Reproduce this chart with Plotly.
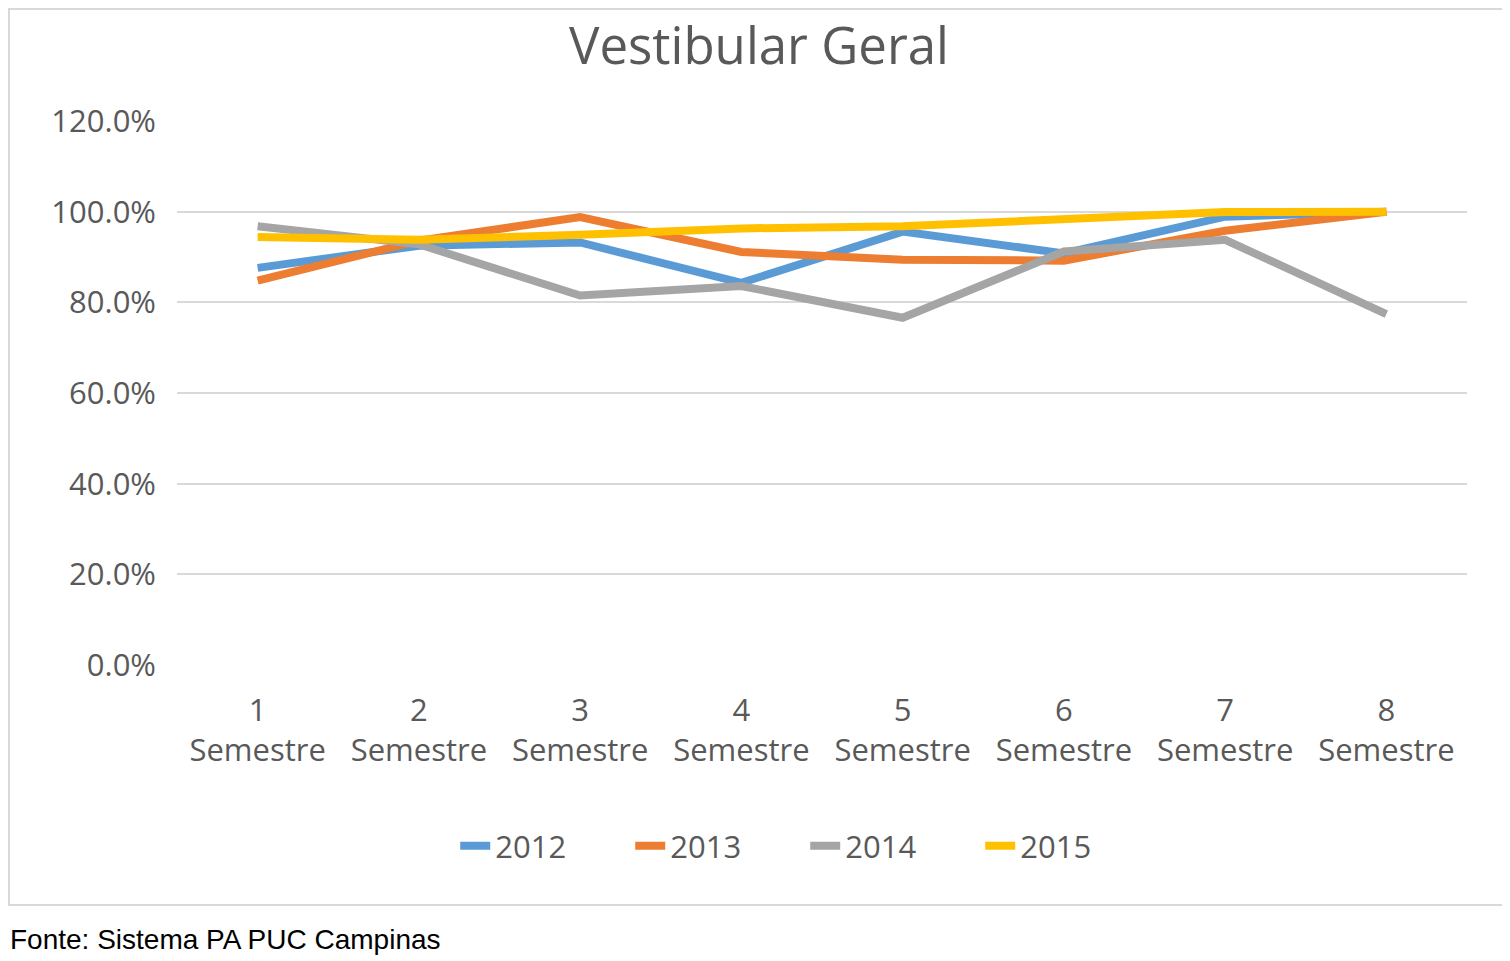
import plotly.graph_objects as go

categories = ["1<br>Semestre", "2<br>Semestre", "3<br>Semestre", "4<br>Semestre",
              "5<br>Semestre", "6<br>Semestre", "7<br>Semestre", "8<br>Semestre"]
s2012 = [0.876, 0.925, 0.932, 0.843, 0.956, 0.908, 0.989, 1.000]
s2013 = [0.848, 0.936, 0.988, 0.911, 0.894, 0.892, 0.958, 1.000]
s2014 = [0.968, 0.928, 0.815, 0.836, 0.766, 0.912, 0.938, 0.774]
s2015 = [0.944, 0.938, 0.949, 0.963, 0.968, 0.984, 0.999, 1.000]
series_names = ["2012", "2013", "2014", "2015"]
colors = ["#5B9BD5", "#ED7D31", "#A5A5A5", "#FFC000"]
ytick_vals = [0, 0.2, 0.4, 0.6, 0.8, 1.0, 1.2]
ytick_text = ["0.0%", "20.0%", "40.0%", "60.0%", "80.0%", "100.0%", "120.0%"]

font_family = "Open Sans, Liberation Sans, sans-serif"
text_color = "#595959"

fig = go.Figure()
for name, vals, col in zip(series_names, [s2012, s2013, s2014, s2015], colors):
    fig.add_trace(go.Scatter(x=categories, y=vals, name=name, mode="lines",
                             line=dict(color=col, width=8)))

# page body has an 8px margin, so the figure is offset by 8px
fig.update_layout(
    width=1502, height=953,
    margin=dict(l=169, r=43, t=113, b=296),
    paper_bgcolor="white", plot_bgcolor="white",
    font=dict(family=font_family, color=text_color, size=31),
    title=dict(text="Vestibular Geral", x=0.5, xanchor="center", y=1 - 38 / 953, yanchor="middle",
               font=dict(family=font_family, size=51, color=text_color)),
    xaxis=dict(type="category", range=[-0.5, 7.5], showgrid=False, showline=False,
               ticks="", ticklabelstandoff=24, tickfont=dict(size=31, color=text_color),
               fixedrange=True),
    yaxis=dict(range=[0, 1.2], tickvals=ytick_vals, ticktext=ytick_text,
               showgrid=True, gridcolor="#D9D9D9", gridwidth=2, zeroline=False,
               showline=False, ticks="", ticklabelstandoff=20,
               tickfont=dict(size=31, color=text_color), fixedrange=True),
    legend=dict(orientation="h", x=0.487, xanchor="center", y=-0.333, yanchor="middle",
                font=dict(size=31, color=text_color), entrywidth=130, entrywidthmode="pixels",
                tracegroupgap=0),
    showlegend=True,
)

fig.add_shape(type="rect", xref="paper", yref="paper",
              x0=(9 - 177) / 1290, x1=(1506 - 177) / 1290,
              y0=(665 - 905) / 544, y1=(665 - 9) / 544,
              line=dict(color="#D9D9D9", width=2), fillcolor="rgba(0,0,0,0)", layer="below")

fig.add_annotation(text="Fonte: Sistema PA PUC Campinas", xref="paper", yref="paper",
                   x=(8 - 177) / 1290, xanchor="left", y=(665 - 940) / 544, yanchor="middle",
                   showarrow=False, font=dict(family="Liberation Sans, sans-serif", size=28, color="black"))

fig.write_html("out.html")
